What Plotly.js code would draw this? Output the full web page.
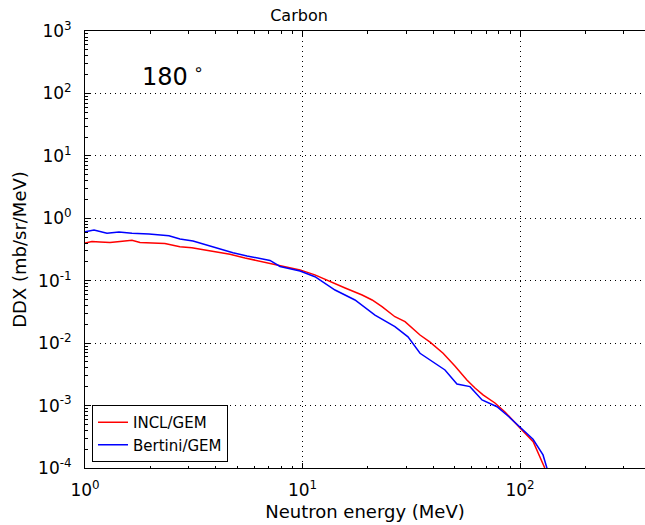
<!DOCTYPE html>
<html>
<head>
<meta charset="utf-8">
<script src="https://cdn.plot.ly/plotly-3.0.1.min.js"></script>
<style>
  html, body { margin: 0; padding: 0; background: #fff; }
  #chart { width: 645px; height: 525px; }
</style>
</head>
<body>
<div id="chart"></div>
<script>
// Carbon, 180 degrees: neutron double-differential cross section
const energyIncl = [1.0, 1.077, 1.172, 1.303, 1.448, 1.644, 1.79, 1.99, 2.33, 2.73, 3.1, 3.56, 4.09, 4.64, 5.44, 6.58, 7.88, 9.74, 11.4, 13.1, 15.7, 18.8, 20.9, 23.2, 26.6, 29.6, 32.9, 34.7, 38.6, 44.3, 50.2, 57.0, 62.1, 67.6, 76.7, 85.3, 100, 115, 130, 135];
const ddxIncl = [0.402, 0.425, 0.417, 0.409, 0.425, 0.444, 0.409, 0.402, 0.394, 0.351, 0.338, 0.310, 0.288, 0.265, 0.231, 0.202, 0.174, 0.149, 0.124, 0.100, 0.0764, 0.059, 0.0491, 0.0384, 0.0265, 0.0221, 0.0163, 0.0135, 0.0104, 0.00688, 0.00431, 0.00257, 0.00191, 0.00148, 0.0011, 0.000789, 0.000437, 0.000264, 0.0001, 0.0000773];

const energyBertini = [1.0, 1.1, 1.262, 1.433, 1.644, 1.969, 2.432, 2.733, 3.138, 3.639, 4.176, 4.789, 5.556, 6.377, 7.09, 7.88, 9.74, 11.41, 14.11, 17.43, 21.54, 26.6, 30.55, 34.7, 39.8, 45.2, 51.3, 58.9, 66.9, 78.4, 88.1, 100, 114.8, 127.6, 133.1, 135.9];
const ddxBertini = [0.61, 0.649, 0.575, 0.603, 0.575, 0.56, 0.526, 0.466, 0.433, 0.373, 0.318, 0.281, 0.249, 0.227, 0.211, 0.169, 0.143, 0.116, 0.071, 0.0491, 0.0282, 0.0184, 0.0126, 0.00688, 0.00504, 0.00372, 0.00222, 0.00201, 0.00123, 0.000959, 0.000681, 0.000459, 0.000288, 0.000162, 0.0001, 0.0000773];

const seriesNames = ['INCL/GEM', 'Bertini/GEM'];

const xTickVals = [1, 10, 100];
const xTickText = ['10<sup>0</sup>', '10<sup>1</sup>', '10<sup>2</sup>'];
const yTickVals = [1e-4, 1e-3, 1e-2, 1e-1, 1, 10, 100, 1000];
const yTickText = ['10<sup>-4</sup>', '10<sup>-3</sup>', '10<sup>-2</sup>', '10<sup>-1</sup>', '10<sup>0</sup>', '10<sup>1</sup>', '10<sup>2</sup>', '10<sup>3</sup>'];

// minor tick positions: 2..9 within each decade
function minorTicks(lo, hi) {
  const out = [];
  for (let d = lo; d < hi; d++) {
    for (let m = 2; m <= 9; m++) out.push(m * Math.pow(10, d));
  }
  return out;
}

const FONT = 'DejaVu Sans, Bitstream Vera Sans, sans-serif';

const traces = [
  { x: energyIncl, y: ddxIncl, name: seriesNames[0], mode: 'lines',
    line: { color: '#ff0000', width: 1.5 } },
  { x: energyBertini, y: ddxBertini, name: seriesNames[1], mode: 'lines',
    line: { color: '#0000ff', width: 1.5 } }
];

const layout = {
  width: 645, height: 525,
  margin: { l: 85, r: 0, t: 31, b: 57 },
  paper_bgcolor: '#fff', plot_bgcolor: '#fff',
  font: { family: FONT, color: '#000' },
  showlegend: true,
  title: { text: 'Carbon', font: { size: 16, family: FONT }, xref: 'container', x: 0.4636, xanchor: 'center',
           yref: 'container', y: 1 - 15 / 525, yanchor: 'middle' },
  xaxis: {
    type: 'log', range: [0, 2.5747],
    showline: true, linecolor: '#000', linewidth: 1, mirror: 'allticks',
    ticks: 'inside', ticklen: 5, tickcolor: '#000', tickwidth: 1,
    tickmode: 'array', tickvals: xTickVals, ticktext: xTickText,
    tickfont: { size: 17, family: FONT }, ticklabelstandoff: 7,
    minor: { tickmode: 'array', tickvals: minorTicks(0, 3), ticks: 'inside', ticklen: 2.5, tickcolor: '#000', showgrid: false },
    showgrid: true, gridcolor: '#000', gridwidth: 1, griddash: '1px,4px',
    zeroline: false,
    title: { text: 'Neutron energy (MeV)', font: { size: 18, family: FONT }, standoff: 5 }
  },
  yaxis: {
    type: 'log', range: [-4, 3],
    showline: true, linecolor: '#000', linewidth: 1, mirror: false,
    ticks: 'inside', ticklen: 5, tickcolor: '#000', tickwidth: 1,
    tickmode: 'array', tickvals: yTickVals, ticktext: yTickText,
    tickfont: { size: 17, family: FONT }, ticklabelstandoff: 9,
    minor: { tickmode: 'array', tickvals: minorTicks(-4, 3), ticks: 'inside', ticklen: 2.5, tickcolor: '#000', showgrid: false },
    showgrid: true, gridcolor: '#000', gridwidth: 1, griddash: '1px,4px',
    zeroline: false,
    title: { text: 'DDX (mb/sr/MeV)', font: { size: 18, family: FONT }, standoff: 6 }
  },
  legend: {
    x: 0.0125, y: 0.0137, xanchor: 'left', yanchor: 'bottom',
    bgcolor: '#fff', bordercolor: '#000', borderwidth: 1,
    font: { size: 15, family: FONT },
    itemwidth: 30, tracegroupgap: 0
  },
  annotations: [{
    text: '180<sup> ∘</sup>', xref: 'paper', yref: 'paper',
    x: 0.157, y: 0.899, xanchor: 'center', yanchor: 'middle',
    showarrow: false, font: { size: 24, family: FONT }
  }]
};

Plotly.newPlot('chart', traces, layout, { displayModeBar: false, staticPlot: true });
</script>
</body>
</html>
